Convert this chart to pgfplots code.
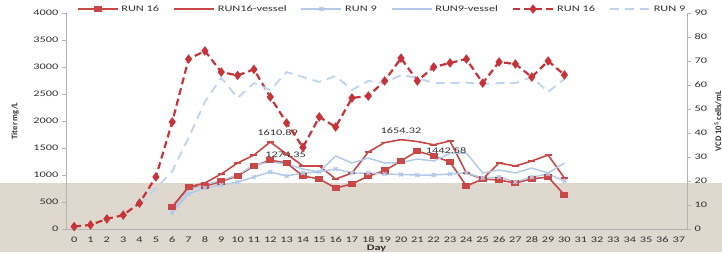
\documentclass[border=0pt]{standalone}
\usepackage{fontspec}
\setmainfont{Carlito}[FakeStretch=1.45]
\newfontfamily\rotfont{Carlito}
\usepackage{pgfplots}
\usepackage{pgfplotstable}
\pgfplotsset{compat=1.18}
\definecolor{runred}{RGB}{200,72,72}
\definecolor{dashred}{RGB}{198,52,58}
\definecolor{lblue}{RGB}{178,202,232}
\definecolor{lblue2}{RGB}{190,212,238}
\definecolor{beige}{RGB}{222,216,207}
\definecolor{axisgray}{RGB}{180,180,180}
\definecolor{txt}{RGB}{50,50,50}

\pgfplotstableread{
day titer
6 407
7 778
8 796
9 880
10 981
11 1167
12 1274.35
13 1222
14 981
15 926
16 759
17 833
18 981
19 1080
20 1260
21 1442.58
22 1352
23 1241
24 796
25 926
26 907
27 852
28 926
29 963
30 630
}\runsixteen

\pgfplotstableread{
day titer
6 407
7 778
8 852
9 1019
10 1222
11 1370
12 1610.89
13 1389
14 1167
15 1167
16 926
17 1037
18 1426
19 1600
20 1654.32
21 1620
22 1560
23 1630
24 1037
25 926
26 1222
27 1167
28 1259
29 1370
30 944
}\runsixteenvessel

\pgfplotstableread{
day titer
6 300
7 650
8 760
9 815
10 870
11 963
12 1056
13 981
14 1037
15 1056
16 1111
17 1037
18 1037
19 1019
20 1010
21 1000
22 1000
23 1019
24 1037
25 944
26 963
27 870
28 963
29 1019
30 889
}\runnine

\pgfplotstableread{
day titer
6 330
7 720
8 820
9 900
10 1000
11 1185
12 1241
13 1204
14 1111
15 1056
16 1352
17 1222
18 1315
19 1222
20 1230
21 1296
22 1259
23 1400
24 1407
25 1037
26 1093
27 1037
28 1130
29 1037
30 1222
}\runninevessel

\pgfplotstableread{
day vcd
0 1
1 1.7
2 4.2
3 5.8
4 10.8
5 21.7
6 44.6
7 70.8
8 74.2
9 65.4
10 64
11 66.5
12 55
13 44.2
14 34
15 46.7
16 42.5
17 54.6
18 55.4
19 61.7
20 71.2
21 61.7
22 67.5
23 69.2
24 70.8
25 60.8
26 69.6
27 68.75
28 63.3
29 70
30 64.2
}\vcdsixteen

\pgfplotstableread{
day vcd
4 10
5 17
6 24
7 38
8 53
9 63
10 54.6
11 60.8
12 57.9
13 65.4
14 63.3
15 61.3
16 63.75
17 57.9
18 61.7
19 60.8
20 64.2
21 62.9
22 60.8
23 60.8
24 61
25 60.4
26 60.8
27 60.8
28 63.3
29 57.1
30 62.5
}\vcdnine

\pgfplotsset{
  common/.style={
    at={(0,0)}, anchor=south west,
    scale only axis, width=621pt, height=216pt,
    xmin=-0.5, xmax=37.5,
    axis line style={draw=axisgray, line width=0.8pt, -},
    tick style={draw=axisgray, line width=0.8pt},
    tick align=outside,
    major tick length=4pt,
    /pgf/number format/assume math mode=true,
    /pgf/number format/1000 sep={},
    scaled y ticks=false,
    ticklabel style={font=\fontsize{8.5}{10}\selectfont, text=txt},
    legend image code/.code={%
      \draw[mark repeat=2,mark phase=2,##1] plot coordinates {(0pt,0pt) (20pt,0pt) (40pt,0pt)};},
  }
}

\begin{document}
\begin{tikzpicture}
\fill[beige] (-66pt,-23pt) rectangle (656pt,46pt);
\begin{axis}[common,
  ymin=0, ymax=4000,
  axis x line*=bottom, axis y line*=left,
  ytick={0,500,...,4000},
  xtick={0,...,37},
  minor xtick={-0.5,0.5,...,37.5},
  xtick style={draw=none},
  minor tick length=4pt,
  minor tick style={draw=axisgray, line width=0.8pt},
  xticklabel style={anchor=center, yshift=-7pt, inner sep=0pt},
  xticklabel shift=0pt,
  xlabel={\bfseries Day},
  xlabel style={at={(axis description cs:0.5,-0.0880)}, anchor=center, inner sep=0pt, font=\fontsize{8.5}{10}\selectfont, text=txt},
  ylabel={\rotfont\bfseries Titer mg/L},
  ylabel style={at={(axis description cs:-0.0821,0.5)}, anchor=center, rotate=0, font=\fontsize{8.5}{10}\selectfont, text=txt},
]
\addplot[runred, line width=1.6pt, mark=square*, mark size=2.4pt, mark options={xscale=1.35}] table[x=day,y=titer] {\runsixteen};
\addplot[runred, line width=1.6pt, mark=-, mark size=3.5pt, mark options={line width=1.6pt}] table[x=day,y=titer] {\runsixteenvessel};
\addplot[lblue, line width=1.5pt, mark=x, mark size=2.6pt] table[x=day,y=titer] {\runnine};
\addplot[lblue, line width=1.5pt] table[x=day,y=titer] {\runninevessel};
\node[font=\fontsize{8.5}{10}\selectfont, text=txt] at (axis cs:12.45,1778) {1610.89};
\node[font=\fontsize{8.5}{10}\selectfont, text=txt] at (axis cs:12.94,1370) {1274.35};
\node[font=\fontsize{8.5}{10}\selectfont, text=txt] at (axis cs:20.0,1815) {1654.32};
\node[font=\fontsize{8.5}{10}\selectfont, text=txt] at (axis cs:22.76,1444) {1442.58};
\end{axis}
\begin{axis}[common,
  ymin=0, ymax=90,
  axis x line=none, axis y line*=right,
  ytick={0,10,...,90},
  ylabel={\rotfont\bfseries VCD 10\textsuperscript{5} cells/mL},
  ylabel style={at={(axis description cs:1.0499,0.5)}, anchor=center, rotate=0, font=\fontsize{8.5}{10}\selectfont, text=txt},
  legend columns=6,
  legend style={draw=none, fill=none, at={(axis description cs:0.509,1.0185)}, anchor=center,
    font=\fontsize{8.5}{10}\selectfont, text=txt,
    /tikz/every even column/.append style={column sep=12pt},
    /tikz/every odd column/.append style={column sep=1pt}},
]
\addlegendimage{runred, line width=1.6pt, mark=square*, mark size=2.4pt, mark options={xscale=1.35}}
\addlegendentry{RUN 16}
\addlegendimage{runred, line width=1.6pt}
\addlegendentry{RUN16-vessel}
\addlegendimage{lblue, line width=1.5pt, mark=x, mark size=2.6pt}
\addlegendentry{RUN 9}
\addlegendimage{lblue, line width=1.5pt}
\addlegendentry{RUN9-vessel}
\addplot[dashred, line width=2.2pt, dash pattern=on 7pt off 4pt, mark=diamond*, mark size=3pt, mark options={solid}] table[x=day,y=vcd] {\vcdsixteen};
\addlegendentry{RUN 16}
\addplot[lblue2, line width=1.8pt, dash pattern=on 9pt off 6pt] table[x=day,y=vcd] {\vcdnine};
\addlegendentry{RUN 9}
\end{axis}
\pgfresetboundingbox
\useasboundingbox (-66pt,-23pt) rectangle (656pt,229pt);
\end{tikzpicture}
\end{document}
